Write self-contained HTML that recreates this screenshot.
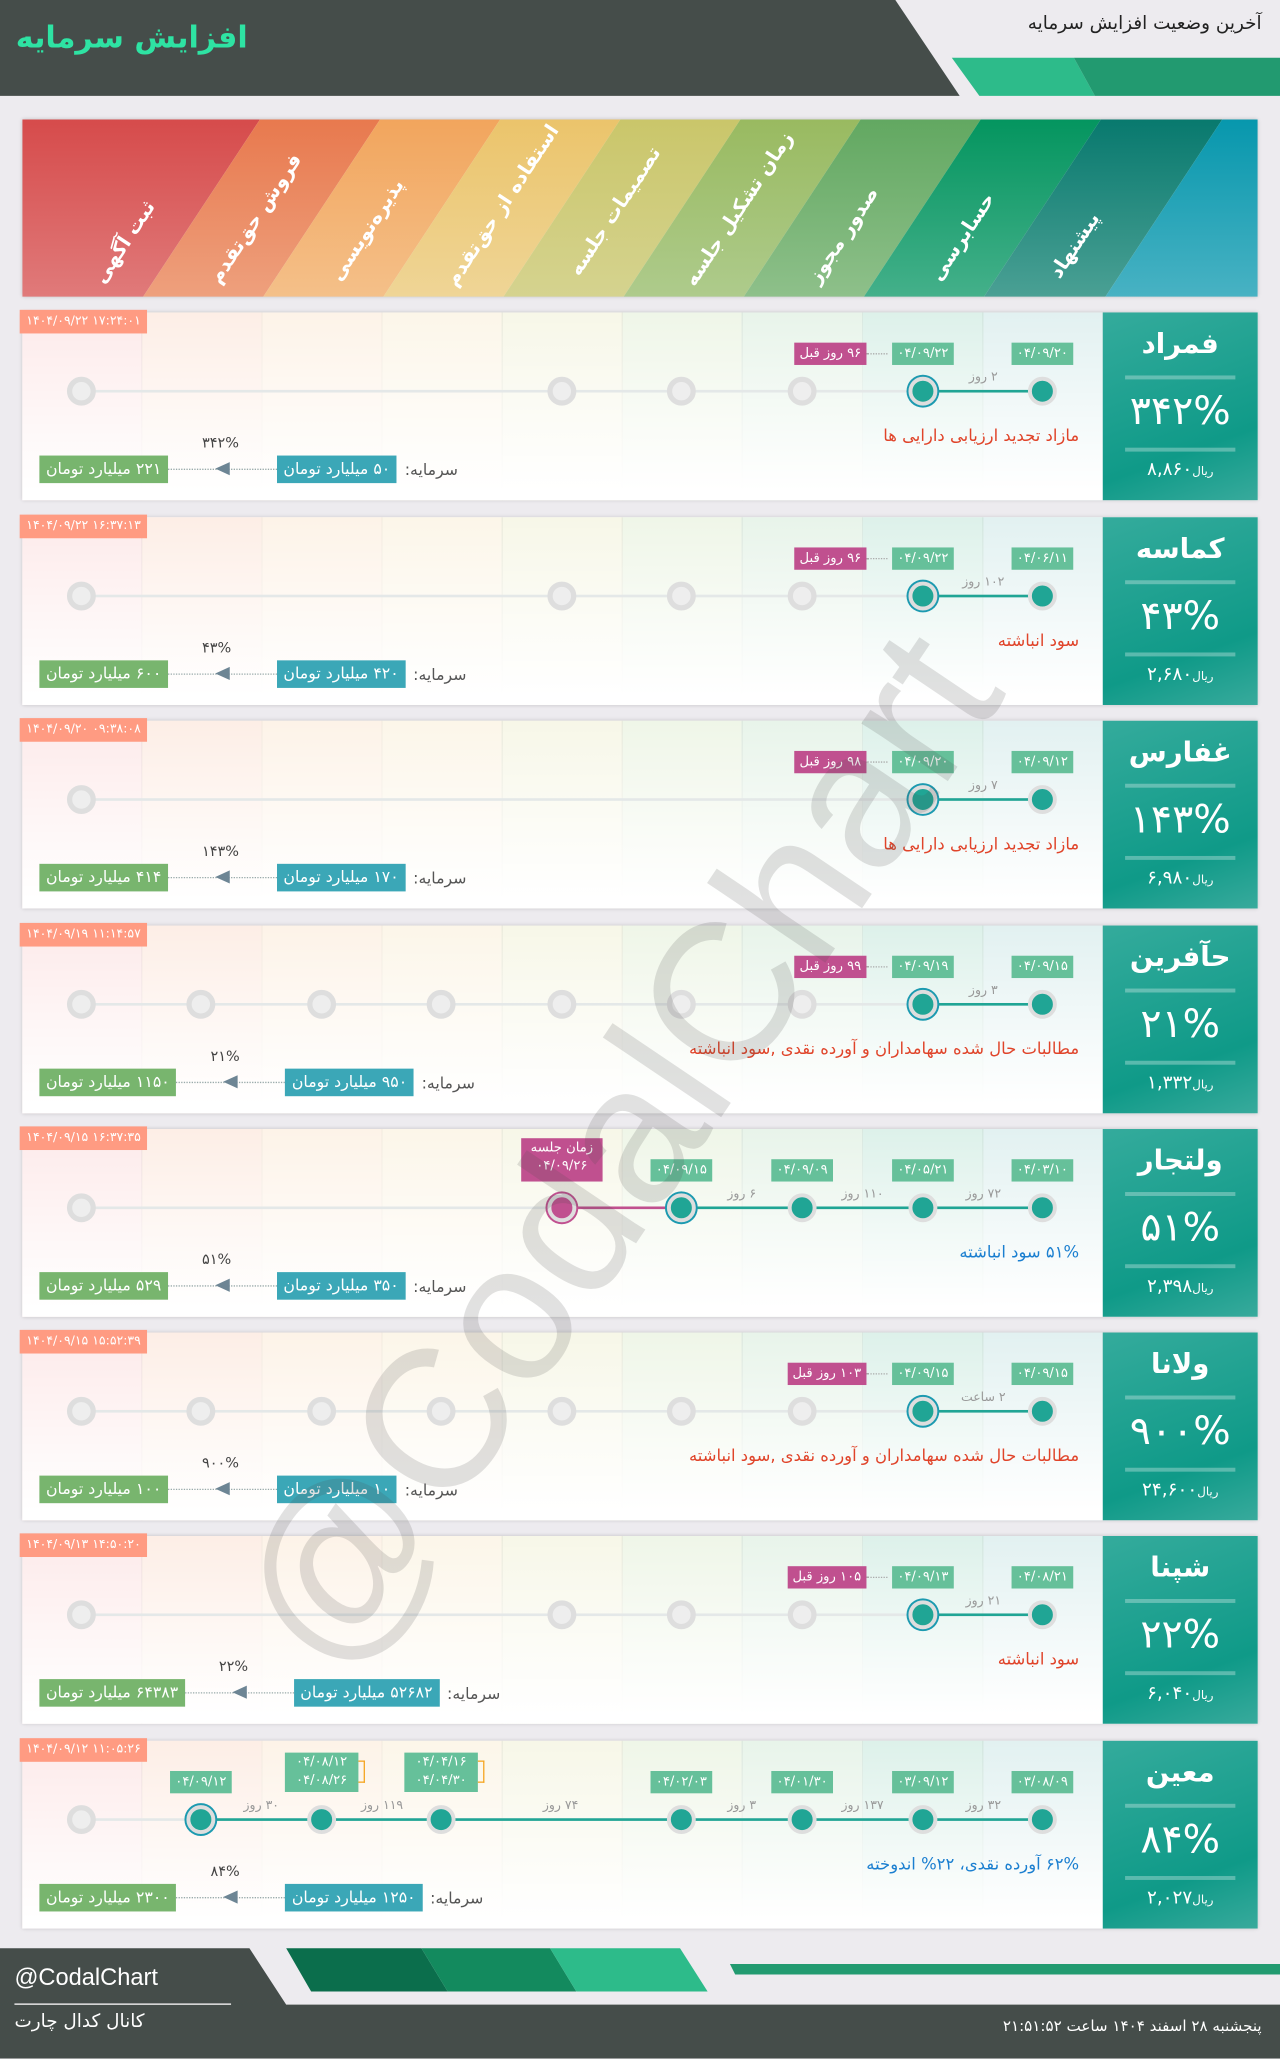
<!DOCTYPE html>
<html><head><meta charset="utf-8">
<style>
*{margin:0;padding:0;box-sizing:border-box}
html,body{width:1280px;height:2058px;overflow:hidden;background:#edebef}
#w{position:absolute;left:0;top:0;width:975px;height:1568px;transform:scale(1.31282);transform-origin:0 0;font-family:"DejaVu Sans","Liberation Sans",sans-serif;background:#edebef;overflow:hidden}
.abs{position:absolute}
.c{position:absolute;left:17px;width:941px;height:143px;background:#fff;box-shadow:0 0 3px rgba(0,0,0,.18)}
.cols{position:absolute;left:0;top:0;width:823px;height:143px;background:linear-gradient(to bottom,rgba(255,255,255,0) 0%,rgba(255,255,255,.6) 55%,#fff 95%),repeating-linear-gradient(to right,transparent 0 90.5px,rgba(0,0,0,.045) 90.5px 91.5px),linear-gradient(to right,#fdeaea 0 91px,#fdeee6 91px 182px,#fdf3e8 182px 274px,#fcf6e9 274px 365px,#f7f7e8 365px 457px,#eff6e8 457px 548px,#e8f4ea 548px 640px,#ddf1ea 640px 732px,#e2f1f1 732px 823px)}
.p{position:absolute;left:823px;top:0;width:118px;height:143px;background:linear-gradient(160deg,#34ab9c,#0f9a88 70%,#38aa9c);color:#fff;text-align:center}
.p .n{position:absolute;top:12px;width:100%;font-size:21px;font-weight:bold}
.p .l1,.p .l2{position:absolute;left:17px;width:84px;height:3px;background:rgba(255,255,255,.3)}
.p .l1{top:48px}.p .l2{top:103px}
.p .v{position:absolute;top:58px;width:100%;font-size:30px}
.p .r{position:absolute;top:112px;width:100%;font-size:14px}
.p .r small{font-size:9px}
.ts{position:absolute;left:-2px;top:-2px;height:18px;line-height:18px;background:#ff9b82;color:#fff;font-size:9.5px;padding:0 5px}
.ln{position:absolute;top:59px;height:2px;background:#e4e8e8}
.al{position:absolute;top:59px;height:2px;background:#20a595}
.g,.a,.cur,.mc{position:absolute;top:60px;border-radius:50%}
.g{width:22px;height:22px;margin:-11px 0 0 -11px;background:#eeeeee;border:4px solid #dedede}
.a{width:22px;height:22px;margin:-11px 0 0 -11px;background:#20a595;border:3px solid #dedede}
.cur{width:22px;height:22px;margin:-11px 0 0 -11px;background:#20a595;border:3px solid #dedede;box-shadow:0 0 0 1.5px #1c9ab0}
.mc{width:22px;height:22px;margin:-11px 0 0 -11px;background:#c0508f;border:3px solid #dedede;box-shadow:0 0 0 1.5px #c0508f}
.lb{position:absolute;top:23px;height:17px;line-height:17px;font-size:10px;color:#fff;background:#66c09a;padding:0 4px;transform:translateX(-50%);white-space:nowrap}
.lb2{position:absolute;top:9px;height:30px;line-height:14px;padding-top:1px;font-size:10px;color:#fff;background:#66c09a;width:56px;text-align:center;transform:translateX(-50%)}
.br{position:absolute;top:15px;width:5px;height:17px;border:1.5px solid #f5a623;border-left:none}
.mg{position:absolute;top:23px;height:17px;line-height:17px;font-size:10px;color:#fff;background:#c0508f;padding:0 4px;white-space:nowrap;direction:rtl}
.dl{position:absolute;top:31px;height:0;border-top:1.5px dotted #aaa}
.dd{position:absolute;top:44px;font-size:9.5px;color:#999;white-space:nowrap;transform:translateX(-50%);direction:rtl}
.ds{position:absolute;right:136px;top:86px;font-size:12.5px;color:#e0442a;white-space:nowrap;direction:rtl}
.ds.b{color:#1b7fd0}
.bt{position:absolute;left:13px;top:109px;display:flex;align-items:center;height:21px;direction:ltr}
.bg{background:#78b56e;color:#fff;font-size:12px;height:21px;line-height:21px;padding:0 5px;white-space:nowrap;direction:rtl}
.bb{background:#3ba7b7;color:#fff;font-size:12px;height:21px;line-height:21px;padding:0 5px;white-space:nowrap;direction:rtl}
.arw{position:relative;width:83px;height:21px}
.arw:before{content:"";position:absolute;left:0;right:0;top:10px;border-top:1.5px dotted #9aa}
.arw:after{content:"";position:absolute;left:36px;top:5px;border-right:11px solid #6d8594;border-top:5.5px solid transparent;border-bottom:5.5px solid transparent}
.arw span{position:absolute;left:26px;top:-16px;font-size:11px;color:#444;direction:rtl}
.sr{font-size:12px;color:#555;margin-left:6px;white-space:nowrap;direction:rtl}
</style></head><body><div id="w">

<svg class="abs" style="left:0;top:0" width="975" height="80">
<polygon points="0,0 682,0 731,73 0,73" fill="#454d4a"/>
<polygon points="725,44 818,44 834,73 746,73" fill="#2dbb8a"/>
<polygon points="818,44 975,44 975,73 834,73" fill="#229a70"/>
</svg>
<div class="abs" style="left:12px;top:16px;font-size:23px;font-weight:bold;color:#2ee3a3;direction:rtl">افزایش سرمایه</div>
<div class="abs" style="right:14px;top:10px;font-size:14px;color:#222;direction:rtl">آخرین وضعیت افزایش سرمایه</div>

<svg class="abs" style="left:17px;top:91px;box-shadow:0 0 3px rgba(0,0,0,.2)" width="941" height="135">
<defs>
<linearGradient id="s0" x1="0" y1="0" x2="0" y2="1"><stop offset="0" stop-color="#d64b4b"/><stop offset="1" stop-color="#e07a7a"/></linearGradient>
<linearGradient id="s1" x1="0" y1="0" x2="0" y2="1"><stop offset="0" stop-color="#e8794e"/><stop offset="1" stop-color="#eea07d"/></linearGradient>
<linearGradient id="s2" x1="0" y1="0" x2="0" y2="1"><stop offset="0" stop-color="#f2a55d"/><stop offset="1" stop-color="#f4c089"/></linearGradient>
<linearGradient id="s3" x1="0" y1="0" x2="0" y2="1"><stop offset="0" stop-color="#ebc46b"/><stop offset="1" stop-color="#efd596"/></linearGradient>
<linearGradient id="s4" x1="0" y1="0" x2="0" y2="1"><stop offset="0" stop-color="#cac66a"/><stop offset="1" stop-color="#d5d38f"/></linearGradient>
<linearGradient id="s5" x1="0" y1="0" x2="0" y2="1"><stop offset="0" stop-color="#99ba60"/><stop offset="1" stop-color="#aecb8c"/></linearGradient>
<linearGradient id="s6" x1="0" y1="0" x2="0" y2="1"><stop offset="0" stop-color="#62a861"/><stop offset="1" stop-color="#8ec08a"/></linearGradient>
<linearGradient id="s7" x1="0" y1="0" x2="0" y2="1"><stop offset="0" stop-color="#04955f"/><stop offset="1" stop-color="#44b08a"/></linearGradient>
<linearGradient id="s8" x1="0" y1="0" x2="0" y2="1"><stop offset="0" stop-color="#08796e"/><stop offset="1" stop-color="#4aa094"/></linearGradient>
<linearGradient id="s9" x1="0" y1="0" x2="0" y2="1"><stop offset="0" stop-color="#0797ad"/><stop offset="1" stop-color="#48b2c3"/></linearGradient>
</defs>
<polygon points="0,0 181,0 92,135 0,135" fill="url(#s0)"/>
<polygon points="181,0 272.5,0 183.5,135 92,135" fill="url(#s1)"/>
<polygon points="272.5,0 364,0 275,135 183.5,135" fill="url(#s2)"/>
<polygon points="364,0 455.5,0 366.5,135 275,135" fill="url(#s3)"/>
<polygon points="455.5,0 547,0 458,135 366.5,135" fill="url(#s4)"/>
<polygon points="547,0 638.5,0 549.5,135 458,135" fill="url(#s5)"/>
<polygon points="638.5,0 730,0 641,135 549.5,135" fill="url(#s6)"/>
<polygon points="730,0 821.5,0 732.5,135 641,135" fill="url(#s7)"/>
<polygon points="821.5,0 914,0 825,135 732.5,135" fill="url(#s8)"/>
<polygon points="914,0 941,0 941,135 825,135" fill="url(#s9)"/>
<g fill="#fff" font-family="DejaVu Sans,sans-serif" font-weight="bold" font-size="15">
<text transform="translate(62,126) rotate(-56.6)">ثبت آگهی</text>
<text transform="translate(150,126) rotate(-56.6)">فروش حق‌تقدم</text>
<text transform="translate(242,124) rotate(-56.6)">پذیره‌نویسی</text>
<text transform="translate(330,128) rotate(-56.6)">استفاده از حق‌تقدم</text>
<text transform="translate(424,120) rotate(-56.6)">تصمیمات جلسه</text>
<text transform="translate(512,128) rotate(-56.6)">زمان تشکیل جلسه</text>
<text transform="translate(606,126) rotate(-56.6)">صدور مجوز</text>
<text transform="translate(699,124) rotate(-56.6)">حسابرسی</text>
<text transform="translate(790,122) rotate(-56.6)">پیشنهاد</text>
</g>
</svg>

<!-- Row 1 -->
<div class="c" style="top:238px"><div class="cols"></div>
<div class="ln" style="left:45px;width:732px"></div>
<i class="g" style="left:45px"></i><i class="g" style="left:411px"></i><i class="g" style="left:502px"></i><i class="g" style="left:594px"></i>
<div class="al" style="left:686px;width:91px"></div>
<i class="a" style="left:777px"></i><i class="cur" style="left:686px"></i>
<span class="lb" style="left:777px">۰۴/۰۹/۲۰</span><span class="lb" style="left:686px">۰۴/۰۹/۲۲</span>
<span class="dl" style="left:643px;width:16px"></span><span class="mg" style="right:298px">۹۶ روز قبل</span>
<span class="dd" style="left:732px">۲ روز</span>
<div class="ds">مازاد تجدید ارزیابی دارایی ها</div>
<div class="bt"><span class="bg">۲۲۱ میلیارد تومان</span><span class="arw"><span>۳۴۲%</span></span><span class="bb">۵۰ میلیارد تومان</span><span class="sr">سرمایه:</span></div>
<div class="ts">۱۴۰۴/۰۹/۲۲ ۱۷:۲۴:۰۱</div>
<div class="p"><div class="n">فمراد</div><div class="l1"></div><div class="v">۳۴۲%</div><div class="l2"></div><div class="r"><small>ریال</small>۸,۸۶۰</div></div>
</div>

<!-- Row 2 -->
<div class="c" style="top:394px"><div class="cols"></div>
<div class="ln" style="left:45px;width:732px"></div>
<i class="g" style="left:45px"></i><i class="g" style="left:411px"></i><i class="g" style="left:502px"></i><i class="g" style="left:594px"></i>
<div class="al" style="left:686px;width:91px"></div>
<i class="a" style="left:777px"></i><i class="cur" style="left:686px"></i>
<span class="lb" style="left:777px">۰۴/۰۶/۱۱</span><span class="lb" style="left:686px">۰۴/۰۹/۲۲</span>
<span class="dl" style="left:643px;width:16px"></span><span class="mg" style="right:298px">۹۶ روز قبل</span>
<span class="dd" style="left:732px">۱۰۲ روز</span>
<div class="ds">سود انباشته</div>
<div class="bt"><span class="bg">۶۰۰ میلیارد تومان</span><span class="arw"><span>۴۳%</span></span><span class="bb">۴۲۰ میلیارد تومان</span><span class="sr">سرمایه:</span></div>
<div class="ts">۱۴۰۴/۰۹/۲۲ ۱۶:۳۷:۱۳</div>
<div class="p"><div class="n">کماسه</div><div class="l1"></div><div class="v">۴۳%</div><div class="l2"></div><div class="r"><small>ریال</small>۲,۶۸۰</div></div>
</div>

<!-- Row 3 -->
<div class="c" style="top:549px"><div class="cols"></div>
<div class="ln" style="left:45px;width:732px"></div>
<i class="g" style="left:45px"></i>
<div class="al" style="left:686px;width:91px"></div>
<i class="a" style="left:777px"></i><i class="cur" style="left:686px"></i>
<span class="lb" style="left:777px">۰۴/۰۹/۱۲</span><span class="lb" style="left:686px">۰۴/۰۹/۲۰</span>
<span class="dl" style="left:643px;width:16px"></span><span class="mg" style="right:298px">۹۸ روز قبل</span>
<span class="dd" style="left:732px">۷ روز</span>
<div class="ds">مازاد تجدید ارزیابی دارایی ها</div>
<div class="bt"><span class="bg">۴۱۴ میلیارد تومان</span><span class="arw"><span>۱۴۳%</span></span><span class="bb">۱۷۰ میلیارد تومان</span><span class="sr">سرمایه:</span></div>
<div class="ts">۱۴۰۴/۰۹/۲۰ ۰۹:۳۸:۰۸</div>
<div class="p"><div class="n">غفارس</div><div class="l1"></div><div class="v">۱۴۳%</div><div class="l2"></div><div class="r"><small>ریال</small>۶,۹۸۰</div></div>
</div>

<!-- Row 4 -->
<div class="c" style="top:705px"><div class="cols"></div>
<div class="ln" style="left:45px;width:732px"></div>
<i class="g" style="left:45px"></i><i class="g" style="left:136px"></i><i class="g" style="left:228px"></i><i class="g" style="left:319px"></i><i class="g" style="left:411px"></i><i class="g" style="left:502px"></i><i class="g" style="left:594px"></i>
<div class="al" style="left:686px;width:91px"></div>
<i class="a" style="left:777px"></i><i class="cur" style="left:686px"></i>
<span class="lb" style="left:777px">۰۴/۰۹/۱۵</span><span class="lb" style="left:686px">۰۴/۰۹/۱۹</span>
<span class="dl" style="left:643px;width:16px"></span><span class="mg" style="right:298px">۹۹ روز قبل</span>
<span class="dd" style="left:732px">۳ روز</span>
<div class="ds">مطالبات حال شده سهامداران و آورده نقدی ,سود انباشته</div>
<div class="bt"><span class="bg">۱۱۵۰ میلیارد تومان</span><span class="arw"><span>۲۱%</span></span><span class="bb">۹۵۰ میلیارد تومان</span><span class="sr">سرمایه:</span></div>
<div class="ts">۱۴۰۴/۰۹/۱۹ ۱۱:۱۴:۵۷</div>
<div class="p"><div class="n">حآفرین</div><div class="l1"></div><div class="v">۲۱%</div><div class="l2"></div><div class="r"><small>ریال</small>۱,۳۳۲</div></div>
</div>

<!-- Row 5 -->
<div class="c" style="top:860px"><div class="cols"></div>
<div class="ln" style="left:45px;width:732px"></div>
<i class="g" style="left:45px"></i>
<div class="al" style="left:411px;width:91px;background:#c0508f"></div>
<div class="al" style="left:502px;width:275px"></div>
<i class="a" style="left:777px"></i><i class="a" style="left:686px"></i><i class="a" style="left:594px"></i><i class="cur" style="left:502px"></i><i class="mc" style="left:411px"></i>
<span class="lb" style="left:777px">۰۴/۰۳/۱۰</span><span class="lb" style="left:686px">۰۴/۰۵/۲۱</span><span class="lb" style="left:594px">۰۴/۰۹/۰۹</span><span class="lb" style="left:502px">۰۴/۰۹/۱۵</span>
<span class="lb2" style="left:411px;top:7px;height:33px;background:#c0508f;width:62px">زمان جلسه<br>۰۴/۰۹/۲۶</span>
<span class="dd" style="left:732px">۷۲ روز</span><span class="dd" style="left:640px">۱۱۰ روز</span><span class="dd" style="left:548px">۶ روز</span>
<div class="ds b">۵۱% سود انباشته</div>
<div class="bt"><span class="bg">۵۲۹ میلیارد تومان</span><span class="arw"><span>۵۱%</span></span><span class="bb">۳۵۰ میلیارد تومان</span><span class="sr">سرمایه:</span></div>
<div class="ts">۱۴۰۴/۰۹/۱۵ ۱۶:۳۷:۳۵</div>
<div class="p"><div class="n">ولتجار</div><div class="l1"></div><div class="v">۵۱%</div><div class="l2"></div><div class="r"><small>ریال</small>۲,۳۹۸</div></div>
</div>

<!-- Row 6 -->
<div class="c" style="top:1015px"><div class="cols"></div>
<div class="ln" style="left:45px;width:732px"></div>
<i class="g" style="left:45px"></i><i class="g" style="left:136px"></i><i class="g" style="left:228px"></i><i class="g" style="left:319px"></i><i class="g" style="left:411px"></i><i class="g" style="left:502px"></i><i class="g" style="left:594px"></i>
<div class="al" style="left:686px;width:91px"></div>
<i class="a" style="left:777px"></i><i class="cur" style="left:686px"></i>
<span class="lb" style="left:777px">۰۴/۰۹/۱۵</span><span class="lb" style="left:686px">۰۴/۰۹/۱۵</span>
<span class="dl" style="left:643px;width:16px"></span><span class="mg" style="right:298px">۱۰۳ روز قبل</span>
<span class="dd" style="left:732px">۲ ساعت</span>
<div class="ds">مطالبات حال شده سهامداران و آورده نقدی ,سود انباشته</div>
<div class="bt"><span class="bg">۱۰۰ میلیارد تومان</span><span class="arw"><span>۹۰۰%</span></span><span class="bb">۱۰ میلیارد تومان</span><span class="sr">سرمایه:</span></div>
<div class="ts">۱۴۰۴/۰۹/۱۵ ۱۵:۵۲:۳۹</div>
<div class="p"><div class="n">ولانا</div><div class="l1"></div><div class="v">۹۰۰%</div><div class="l2"></div><div class="r"><small>ریال</small>۲۴,۶۰۰</div></div>
</div>

<!-- Row 7 -->
<div class="c" style="top:1170px"><div class="cols"></div>
<div class="ln" style="left:45px;width:732px"></div>
<i class="g" style="left:45px"></i><i class="g" style="left:411px"></i><i class="g" style="left:502px"></i><i class="g" style="left:594px"></i>
<div class="al" style="left:686px;width:91px"></div>
<i class="a" style="left:777px"></i><i class="cur" style="left:686px"></i>
<span class="lb" style="left:777px">۰۴/۰۸/۲۱</span><span class="lb" style="left:686px">۰۴/۰۹/۱۳</span>
<span class="dl" style="left:643px;width:16px"></span><span class="mg" style="right:298px">۱۰۵ روز قبل</span>
<span class="dd" style="left:732px">۲۱ روز</span>
<div class="ds">سود انباشته</div>
<div class="bt"><span class="bg">۶۴۳۸۳ میلیارد تومان</span><span class="arw"><span>۲۲%</span></span><span class="bb">۵۲۶۸۲ میلیارد تومان</span><span class="sr">سرمایه:</span></div>
<div class="ts">۱۴۰۴/۰۹/۱۳ ۱۴:۵۰:۲۰</div>
<div class="p"><div class="n">شپنا</div><div class="l1"></div><div class="v">۲۲%</div><div class="l2"></div><div class="r"><small>ریال</small>۶,۰۴۰</div></div>
</div>

<!-- Row 8 -->
<div class="c" style="top:1326px"><div class="cols"></div>
<div class="ln" style="left:45px;width:732px"></div>
<i class="g" style="left:45px"></i>
<div class="al" style="left:136px;width:641px"></div>
<i class="a" style="left:777px"></i><i class="a" style="left:686px"></i><i class="a" style="left:594px"></i><i class="a" style="left:502px"></i><i class="a" style="left:319px"></i><i class="a" style="left:228px"></i><i class="cur" style="left:136px"></i>
<span class="lb" style="left:777px">۰۳/۰۸/۰۹</span><span class="lb" style="left:686px">۰۳/۰۹/۱۲</span><span class="lb" style="left:594px">۰۴/۰۱/۳۰</span><span class="lb" style="left:502px">۰۴/۰۲/۰۳</span><span class="lb" style="left:136px">۰۴/۰۹/۱۲</span>
<span class="lb2" style="left:319px">۰۴/۰۴/۱۶<br>۰۴/۰۴/۳۰</span><span class="br" style="left:347px"></span>
<span class="lb2" style="left:228px">۰۴/۰۸/۱۲<br>۰۴/۰۸/۲۶</span><span class="br" style="left:256px"></span>
<span class="dd" style="left:732px">۳۲ روز</span><span class="dd" style="left:640px">۱۳۷ روز</span><span class="dd" style="left:548px">۳ روز</span><span class="dd" style="left:410px">۷۴ روز</span><span class="dd" style="left:274px">۱۱۹ روز</span><span class="dd" style="left:182px">۳۰ روز</span>
<div class="ds b">۶۲% آورده نقدی، ۲۲% اندوخته</div>
<div class="bt"><span class="bg">۲۳۰۰ میلیارد تومان</span><span class="arw"><span>۸۴%</span></span><span class="bb">۱۲۵۰ میلیارد تومان</span><span class="sr">سرمایه:</span></div>
<div class="ts">۱۴۰۴/۰۹/۱۲ ۱۱:۰۵:۲۶</div>
<div class="p"><div class="n">معین</div><div class="l1"></div><div class="v">۸۴%</div><div class="l2"></div><div class="r"><small>ریال</small>۲,۰۲۷</div></div>
</div>

<div class="abs" style="left:-30px;top:790px;width:1000px;text-align:center;font-family:'Liberation Sans',sans-serif;font-size:150px;color:rgba(80,80,80,.17);transform:rotate(-56deg);white-space:nowrap">@CodalChart</div>

<svg class="abs" style="left:0;top:1480px" width="975" height="88">
<polygon points="0,4 190,4 218,47 975,47 975,88 0,88" fill="#454d4a"/>
<polygon points="218,4 321,4 341,37 237,37" fill="#0b6e4c"/>
<polygon points="321,4 419,4 439,37 341,37" fill="#138a5e"/>
<polygon points="419,4 518,4 539,37 439,37" fill="#2dbb8a"/>
<polygon points="556,16 975,16 975,24 560,24" fill="#229a70"/>
<rect x="11" y="46" width="165" height="1.2" fill="#ddd"/>
</svg>
<div class="abs" style="left:11px;top:1496px;font-family:'Liberation Sans',sans-serif;font-size:18px;color:#fff">@CodalChart</div>
<div class="abs" style="left:11px;top:1532px;font-size:14px;color:#fff;direction:rtl">کانال کدال چارت</div>
<div class="abs" style="right:14px;top:1536px;font-size:11.5px;color:#fff;direction:rtl">پنجشنبه ۲۸ اسفند ۱۴۰۴ ساعت ۲۱:۵۱:۵۲</div>

</div></body></html>
